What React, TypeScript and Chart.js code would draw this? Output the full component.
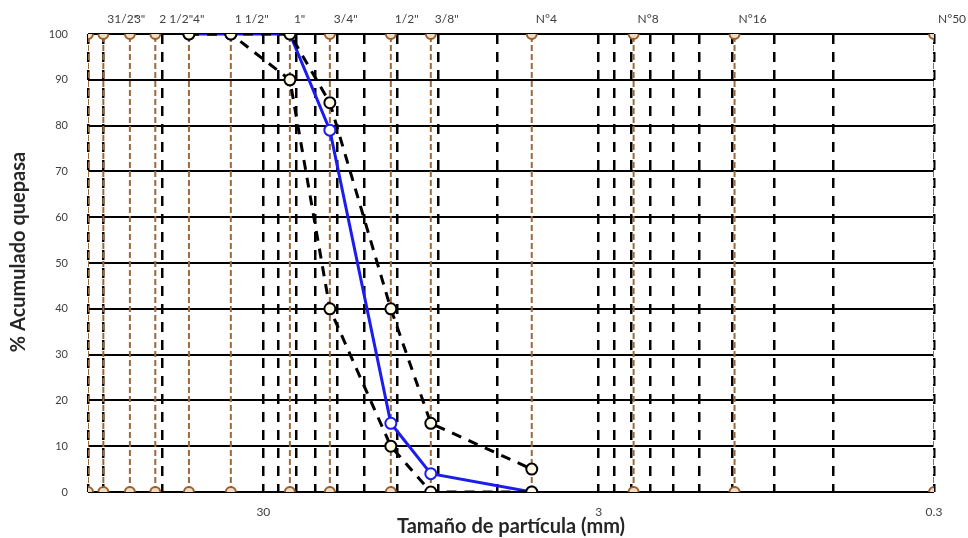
import React, { useEffect, useRef } from 'react';
import { Chart, registerables } from 'chart.js';

Chart.register(...registerables);

// Sieves (vertical reference lines) — sizes in mm and the labels printed above them
const sieveLabels = ['', '31/2"', '3"', '2 1/2"', '4"', '1 1/2"', '1"', '3/4"', '1/2"', '3/8"', 'N°4', 'N°8', 'N°16', 'N°50'];
const sieveSizes = [100, 90, 75, 63, 50, 37.5, 25, 19, 12.5, 9.5, 4.75, 2.36, 1.18, 0.3];

// Grading curve of the sample and specification limits
const sampleSizes = [50, 37.5, 25, 19, 12.5, 9.5, 4.75];
const samplePassing = [100, 100, 100, 79, 15, 4, 0];
const upperLimit = [100, 100, 100, 85, 40, 15, 5];
const lowerLimit = [100, 100, 90, 40, 10, 0, 0];

// Log-axis grid values and labelled ticks
const gridSizes = [100, 90, 60, 30, 27, 24, 21, 18, 15, 12, 9, 6, 3, 2.7, 2.4, 2.1, 1.8, 1.5, 1.2, 0.9, 0.6, 0.3];
const xTickLabels = [30, 3, 0.3];
const yTickValues = [0, 10, 20, 30, 40, 50, 60, 70, 80, 90, 100];

const xTitle = 'Tamaño de partícula (mm)';
const yTitle = '% Acumulado quepasa';

const FONT = 'Lato, "Open Sans", sans-serif';

const textPlugin = {
  id: 'texts',
  afterDatasetsDraw(chart: any) {
    const { ctx, chartArea } = chart;
    const x = chart.scales.x;
    ctx.save();
    ctx.fillStyle = '#404040';
    ctx.font = `12px ${FONT}`;
    ctx.textAlign = 'left';
    ctx.textBaseline = 'middle';
    sieveLabels.forEach((t, i) => {
      if (!t) return;
      ctx.fillText(t, x.getPixelForValue(sieveSizes[i]) + 4, chartArea.top - 15);
    });
    ctx.fillStyle = '#262626';
    ctx.font = `bold 20px ${FONT}`;
    ctx.textAlign = 'center';
    ctx.fillText(xTitle, (chartArea.left + chartArea.right) / 2, chartArea.bottom + 35);
    ctx.translate(19, (chartArea.top + chartArea.bottom) / 2 - 11);
    ctx.rotate(-Math.PI / 2);
    ctx.fillText(yTitle, 0, 0);
    ctx.restore();
  },
};

export default function App() {
  const ref = useRef<HTMLCanvasElement | null>(null);
  useEffect(() => {
    if (!ref.current) return;
    const sieveDatasets = sieveSizes.map((s) => ({
      type: 'scatter' as const,
      data: [{ x: s, y: 0 }, { x: s, y: 100 }],
      showLine: true,
      borderColor: '#9b6a3a',
      borderWidth: 2,
      borderDash: [6, 3],
      pointRadius: 5,
      pointBorderWidth: 2,
      pointBorderColor: '#9b5d2a',
      pointBackgroundColor: '#f0dcc0',
      order: 10,
    }));
    const mk = (ys: number[]) => sampleSizes.map((s, i) => ({ x: s, y: ys[i] }));
    const chart = new Chart(ref.current, {
      type: 'scatter',
      data: {
        datasets: [
          {
            data: mk(upperLimit),
            showLine: true,
            borderColor: '#000000',
            borderWidth: 3,
            borderDash: [10, 8],
            pointRadius: 5.5,
            pointBorderWidth: 2,
            pointBorderColor: '#000000',
            pointBackgroundColor: '#fffbe6',
            order: 1,
          },
          {
            data: mk(lowerLimit),
            showLine: true,
            borderColor: '#000000',
            borderWidth: 3,
            borderDash: [10, 8],
            pointRadius: 5.5,
            pointBorderWidth: 2,
            pointBorderColor: '#000000',
            pointBackgroundColor: '#fffbe6',
            order: 2,
          },
          {
            data: mk(samplePassing),
            showLine: true,
            borderColor: '#1c1cf0',
            borderWidth: 3,
            pointRadius: 5.5,
            pointBorderWidth: 2,
            pointBorderColor: '#1c1cf0',
            pointBackgroundColor: '#ffffff',
            order: 3,
          },
          ...sieveDatasets,
        ] as any,
      },
      options: {
        animation: false,
        responsive: false,
        devicePixelRatio: 1,
        layout: { padding: { top: 34, right: 34, left: 0, bottom: 0 } },
        plugins: { legend: { display: false }, tooltip: { enabled: false } },
        scales: {
          x: {
            type: 'logarithmic',
            reverse: true,
            min: 0.3,
            max: 100,
            afterBuildTicks: (scale: any) => {
              scale.ticks = gridSizes.map((v) => ({ value: v }));
            },
            afterFit: (scale: any) => {
              scale.height = 46;
            },
            grid: { color: '#000000', lineWidth: 2.5, drawTicks: false },
            border: { display: false, dash: [10, 8] },
            ticks: {
              autoSkip: false,
              maxRotation: 0,
              padding: 13,
              color: '#404040',
              font: { family: FONT, size: 12 },
              callback: (v: any) => (xTickLabels.includes(Number(v)) ? String(v) : ''),
            },
          },
          y: {
            min: 0,
            max: 100,
            afterBuildTicks: (scale: any) => {
              scale.ticks = yTickValues.map((v) => ({ value: v }));
            },
            afterFit: (scale: any) => {
              scale.width = 88;
            },
            grid: { color: '#000000', lineWidth: 2, drawTicks: false },
            border: { display: false },
            ticks: {
              padding: 20,
              color: '#404040',
              font: { family: FONT, size: 11 },
            },
          },
        },
      } as any,
      plugins: [textPlugin],
    });
    return () => chart.destroy();
  }, []);
  return (
    <div style={{ position: 'fixed', left: 0, top: 0, width: 968, height: 538, background: '#ffffff' }}>
      <canvas ref={ref} width={968} height={538} style={{ width: 968, height: 538, display: 'block' }} />
    </div>
  );
}
